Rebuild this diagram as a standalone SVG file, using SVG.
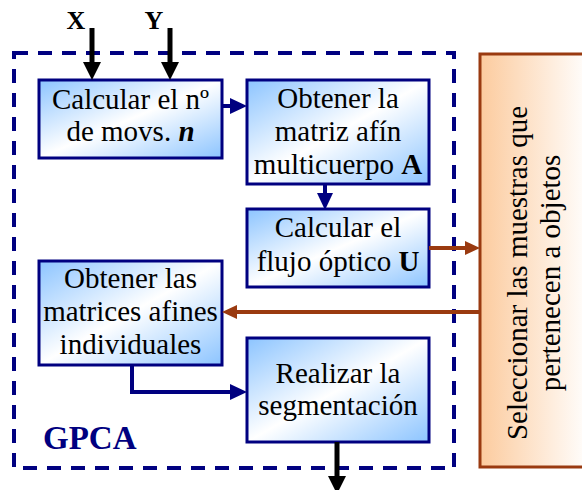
<svg xmlns="http://www.w3.org/2000/svg" width="582" height="490" viewBox="0 0 582 490">
<defs>
<linearGradient id="gb" x1="0" y1="0" x2="1" y2="1">
<stop offset="0" stop-color="#8CC4FF"/>
<stop offset="0.5" stop-color="#FFFFFF"/>
<stop offset="1" stop-color="#8CC4FF"/>
</linearGradient>
<linearGradient id="go" x1="0" y1="0" x2="1" y2="0">
<stop offset="0" stop-color="#FCCB9E"/>
<stop offset="1" stop-color="#FFFFFF"/>
</linearGradient>
<marker id="mn" markerUnits="userSpaceOnUse" markerWidth="17" markerHeight="16" refX="0" refY="8" orient="auto"><path d="M0,0 L17,8 L0,16 z" fill="#000080"/></marker>
<marker id="mk" markerUnits="userSpaceOnUse" markerWidth="18" markerHeight="18" refX="0" refY="9" orient="auto"><path d="M0,0 L18,9 L0,18 z" fill="#000"/></marker>
<marker id="mb" markerUnits="userSpaceOnUse" markerWidth="15" markerHeight="14" refX="0" refY="7" orient="auto"><path d="M0,0 L15,7 L0,14 z" fill="#9A3A10"/></marker>
</defs>
<rect width="582" height="490" fill="#fff"/>

<g id="gpca">
<rect x="14" y="53" width="440" height="415" fill="none" stroke="#000080" stroke-width="4" stroke-dasharray="14 10"/>
<text x="43" y="449" font-family="Liberation Serif" font-size="33" font-weight="bold" fill="#000080">GPCA</text>
</g>

<g id="seleccionar">
<rect x="480" y="54" width="110" height="413" fill="url(#go)" stroke="#9A3A10" stroke-width="3"/>
<text font-family="Liberation Serif" font-size="29" text-anchor="middle" transform="translate(527,273) rotate(-90)">Seleccionar las muestras que</text>
<text font-family="Liberation Serif" font-size="29" text-anchor="middle" transform="translate(560,273) rotate(-90)">pertenecen a objetos</text>
</g>

<g id="calcular-n" font-family="Liberation Serif" font-size="29" text-anchor="middle">
<rect x="39" y="80" width="183" height="78" fill="url(#gb)" stroke="#000080" stroke-width="3"/>
<text x="130.5" y="109">Calcular el nº</text>
<text x="130.5" y="141">de movs. <tspan font-weight="bold" font-style="italic">n</tspan></text>
</g>

<g id="matriz-a" font-family="Liberation Serif" font-size="29" text-anchor="middle">
<rect x="247" y="80" width="182" height="104" fill="url(#gb)" stroke="#000080" stroke-width="3"/>
<text x="338" y="108">Obtener la</text>
<text x="338" y="141">matriz afín</text>
<text x="338" y="174">multicuerpo <tspan font-weight="bold">A</tspan></text>
</g>

<g id="flujo-u" font-family="Liberation Serif" font-size="29" text-anchor="middle">
<rect x="247" y="209" width="182" height="78" fill="url(#gb)" stroke="#000080" stroke-width="3"/>
<text x="338" y="237">Calcular el</text>
<text x="338" y="271">flujo óptico <tspan font-weight="bold">U</tspan></text>
</g>

<g id="matrices-individuales" font-family="Liberation Serif" font-size="29" text-anchor="middle">
<rect x="39" y="261" width="183" height="104" fill="url(#gb)" stroke="#000080" stroke-width="3"/>
<text x="130.5" y="288">Obtener las</text>
<text x="130.5" y="321">matrices afines</text>
<text x="130.5" y="354">individuales</text>
</g>

<g id="segmentacion" font-family="Liberation Serif" font-size="29" text-anchor="middle">
<rect x="247" y="338" width="182" height="104" fill="url(#gb)" stroke="#000080" stroke-width="3"/>
<text x="338" y="383">Realizar la</text>
<text x="338" y="415">segmentación</text>
</g>

<g id="inputs" font-family="Liberation Serif" font-size="26" font-weight="bold" text-anchor="middle">
<text x="76" y="29">X</text>
<text x="154" y="29">Y</text>
</g>

<g id="connectors" fill="none">
<g stroke="#000" stroke-width="5" marker-end="url(#mk)">
<line x1="92" y1="28" x2="92" y2="62"/>
<line x1="170" y1="28" x2="170" y2="62"/>
<line x1="337" y1="442" x2="337" y2="476"/>
</g>
<g stroke="#000080" stroke-width="4" marker-end="url(#mn)">
<line x1="222" y1="106" x2="230" y2="106"/>
<line x1="325" y1="184" x2="325" y2="193"/>
<polyline points="132,365 132,392 230,392"/>
</g>
<g stroke="#9A3A10" stroke-width="4" marker-end="url(#mb)">
<line x1="429" y1="248" x2="465" y2="248"/>
<line x1="480" y1="312" x2="237" y2="312"/>
</g>
</g>
</svg>
